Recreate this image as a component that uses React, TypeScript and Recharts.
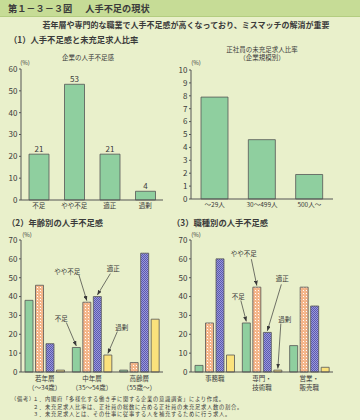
import React from "react";
import { BarChart, Bar, XAxis, YAxis, ReferenceArea, LabelList } from "recharts";

// (1) 企業の人手不足感
const shortageCats = ["不足", "やや不足", "適正", "過剰"];
const shortageVals = [21, 53, 21, 4];
const shortageTicks = [0, 10, 20, 30, 40, 50, 60];

// (1) 正社員の未充足求人比率（企業規模別）
const sizeCats = ["～29人", "30～499人", "500人～"];
const vacancyVals = [7.9, 4.6, 1.9];
const vacancyTicks = [0, 1, 2, 3, 4, 5, 6, 7, 8, 9, 10];

// (2) 年齢別
const ageCats = ["若年層", "中年層", "高齢層"];
const ageSubs = ["（～34歳）", "（35～54歳）", "（55歳～）"];
const ageFusoku = [38, 13, 1];
const ageYaya = [46, 37, 5];
const ageTekisei = [15, 40, 63];
const ageKajo = [1, 9, 28];

// (3) 職種別
const jobCats = ["事務職", "専門・", "営業・"];
const jobSubs = ["", "技術職", "販売職"];
const jobFusoku = [3.5, 26, 14];
const jobYaya = [26, 45, 45];
const jobTekisei = [60, 21, 35];
const jobKajo = [9, 1, 2.5];

const pctTicks70 = [0, 10, 20, 30, 40, 50, 60, 70];
const seriesNames = ["不足", "やや不足", "適正", "過剰"];

const shortageData = shortageCats.map((name, i) => ({ name, value: shortageVals[i] }));
const vacancyData = sizeCats.map((name, i) => ({ name, value: vacancyVals[i] }));
const ageData = ageCats.map((name, i) => ({
  name,
  fusoku: ageFusoku[i],
  yaya: ageYaya[i],
  tekisei: ageTekisei[i],
  kajo: ageKajo[i],
}));
const jobData = jobCats.map((name, i) => ({
  name,
  fusoku: jobFusoku[i],
  yaya: jobYaya[i],
  tekisei: jobTekisei[i],
  kajo: jobKajo[i],
}));

const INK = "#3a3a3a";
const FRAME = "#555";
const GREEN = "#8fcf9f";
const YELLOW = "#fbe27c";
const FONT = '"Noto Sans CJK JP", "Noto Sans", sans-serif';

const seriesKeys = ["fusoku", "yaya", "tekisei", "kajo"];
const seriesFills = (p: string) => [GREEN, `url(#${p}-dots)`, `url(#${p}-check)`, YELLOW];

// callout offsets relative to the top centre of the middle-category bar
const ageCallouts: Record<string, number[]> = {
  fusoku: [-15, -29.5, -10, -25],
  yaya: [-19.5, -31, -8, -27.5],
  tekisei: [16, -28.5, 13, -23],
  kajo: [14, -28, 9.5, -23.5],
};
const jobCallouts: Record<string, number[]> = {
  fusoku: [-8, -27, -5.5, -22.5],
  yaya: [-13, -34, -5.5, -28],
  tekisei: [15, -54, 14, -48],
  kajo: [7, -51.5, 3, -46.5],
};

function Defs({ p }: { p: string }) {
  return (
    <defs>
      <pattern id={`${p}-dots`} width="3" height="3" patternUnits="userSpaceOnUse">
        <rect width="3" height="3" fill="#f4b488" />
        <rect x="1" y="1" width="1" height="1" fill="#fff" />
        <rect x="2.5" y="2.5" width="0.5" height="0.5" fill="#fde6d6" />
      </pattern>
      <pattern id={`${p}-check`} width="2" height="2" patternUnits="userSpaceOnUse">
        <rect width="2" height="2" fill="#9b9ad9" />
        <rect width="1" height="1" fill="#5a58b0" />
        <rect x="1" y="1" width="1" height="1" fill="#5a58b0" />
      </pattern>
      <marker id={`${p}-arrow`} markerWidth="5" markerHeight="4" refX="5" refY="2" orient="auto" markerUnits="userSpaceOnUse">
        <path d="M0,0 L5,2 L0,4 z" fill={INK} />
      </marker>
    </defs>
  );
}

function makeCallout(text: string, off: number[], p: string) {
  return (props: any) => {
    if (props.index !== 1) return null;
    const vb = props.viewBox ?? props;
    const cx = vb.x + vb.width / 2;
    const top = vb.y;
    return (
      <g>
        <line
          x1={cx + off[2]}
          y1={top + off[3]}
          x2={cx}
          y2={top - 1.5}
          stroke={INK}
          strokeWidth={0.7}
          markerEnd={`url(#${p}-arrow)`}
        />
        <text
          x={cx + off[0]}
          y={top + off[1]}
          textAnchor="middle"
          dominantBaseline="central"
          fontSize={6.5}
          fill={INK}
        >
          {text}
        </text>
      </g>
    );
  };
}

function TwoLineTick(props: any) {
  const { x, y, payload, subs } = props;
  const idx = payload?.index ?? props.index ?? 0;
  return (
    <text x={x} y={y} textAnchor="middle" fontSize={6.5} fill={INK}>
      <tspan x={x} dy={6}>{payload.value}</tspan>
      <tspan x={x} dy={8.5}>{subs[idx]}</tspan>
    </text>
  );
}

const yTick = { fontSize: 8, fill: INK };
const xTick = { fontSize: 6.5, fill: INK };

function Txt({ x, y, size, bold, center, spacing, children }: any) {
  return (
    <div
      style={{
        position: "absolute",
        left: x,
        top: y - size / 2,
        fontSize: size,
        lineHeight: 1,
        fontWeight: bold ? 700 : 400,
        letterSpacing: spacing,
        whiteSpace: "nowrap",
        transform: center ? "translateX(-50%)" : undefined,
      }}
    >
      {children}
    </div>
  );
}

function GroupChart({ data, subs, callouts, p }: any) {
  const fills = seriesFills(p);
  return (
    <BarChart
      width={p === "age" ? 172 : 190}
      height={170}
      data={data}
      margin={{ top: 14, right: p === "age" ? 9 : 27, bottom: 0, left: 0 }}
      barSize={8}
      barGap={2.5}
    >
      <Defs p={p} />
      <ReferenceArea fill="#fff" fillOpacity={1} stroke={FRAME} strokeWidth={1} />
      <XAxis
        dataKey="name"
        interval={0}
        height={24}
        tickLine={false}
        tickSize={3}
        tickMargin={0}
        stroke={FRAME}
        tick={<TwoLineTick subs={subs} />}
      />
      <YAxis
        domain={[0, 70]}
        ticks={pctTicks70}
        interval={0}
        width={21}
        tickSize={2}
        tickMargin={1.5}
        stroke={FRAME}
        tick={yTick}
      />
      {seriesKeys.map((k, i) => (
        <Bar key={k} dataKey={k} name={seriesNames[i]} fill={fills[i]} stroke={FRAME} strokeWidth={0.8} isAnimationActive={false}>
          <LabelList dataKey={k} content={makeCallout(seriesNames[i], callouts[k], p)} />
        </Bar>
      ))}
    </BarChart>
  );
}

export default function App() {
  return (
    <div
      style={{
        position: "absolute",
        left: 0,
        top: 0,
        width: 360,
        height: 420,
        background: "#e9f0cb",
        fontFamily: FONT,
        color: INK,
        overflow: "hidden",
      }}
    >
      <div
        style={{
          position: "absolute",
          left: 0,
          top: 0,
          width: 360,
          height: 16,
          background: "#c6dc96",
          borderBottom: "1px solid #b3cd80",
        }}
      />
      <Txt x={8} y={8.5} size={9.2} bold>
        第１－３－３図<span style={{ marginLeft: 13 }}>人手不足の現状</span>
      </Txt>
      <Txt x={186} y={25} size={8} bold center>
        若年層や専門的な職業で人手不足感が高くなっており、ミスマッチの解消が重要
      </Txt>
      <Txt x={9} y={39} size={8.3} bold>（1）人手不足感と未充足求人比率</Txt>
      <Txt x={88} y={57} size={6.5} center>企業の人手不足感</Txt>
      <Txt x={262} y={49} size={6.5} center>正社員の未充足求人比率</Txt>
      <Txt x={262} y={57.5} size={6.5} center>（企業規模別）</Txt>
      <Txt x={25} y={63} size={6} center>(%)</Txt>
      <Txt x={196} y={63} size={6} center>(%)</Txt>
      <Txt x={7} y={222} size={8.3} bold>（2）年齢別の人手不足感</Txt>
      <Txt x={172} y={222} size={8.3} bold>（3）職種別の人手不足感</Txt>
      <Txt x={27} y={235} size={6} center>(%)</Txt>
      <Txt x={196} y={235} size={6} center>(%)</Txt>

      <div style={{ position: "absolute", left: 0, top: 55 }}>
        <BarChart width={170} height={160} data={shortageData} margin={{ top: 14, right: 7, bottom: 0, left: 0 }} barSize={20}>
          <ReferenceArea fill="#fff" fillOpacity={1} stroke={FRAME} strokeWidth={1} />
          <XAxis dataKey="name" interval={0} height={15} tickLine={false} tickSize={3} tickMargin={0} stroke={FRAME} tick={xTick} />
          <YAxis domain={[0, 60]} ticks={shortageTicks} interval={0} width={21} tickSize={2} tickMargin={1.5} stroke={FRAME} tick={yTick} />
          <Bar dataKey="value" fill={GREEN} stroke={FRAME} strokeWidth={0.8} isAnimationActive={false}>
            <LabelList dataKey="value" position="top" offset={2} fontSize={8} fill={INK} />
          </Bar>
        </BarChart>
      </div>

      <div style={{ position: "absolute", left: 170, top: 55 }}>
        <BarChart width={190} height={160} data={vacancyData} margin={{ top: 15, right: 27, bottom: 0, left: 0 }} barSize={27}>
          <ReferenceArea fill="#fff" fillOpacity={1} stroke={FRAME} strokeWidth={1} />
          <XAxis dataKey="name" interval={0} height={16} tickLine={false} tickSize={3} tickMargin={0} stroke={FRAME} tick={xTick} />
          <YAxis domain={[0, 10]} ticks={vacancyTicks} interval={0} width={21} tickSize={2} tickMargin={1.5} stroke={FRAME} tick={yTick} />
          <Bar dataKey="value" fill={GREEN} stroke={FRAME} strokeWidth={0.8} isAnimationActive={false} />
        </BarChart>
      </div>

      <div style={{ position: "absolute", left: 0, top: 226 }}>
        <GroupChart data={ageData} subs={ageSubs} callouts={ageCallouts} p="age" />
      </div>
      <div style={{ position: "absolute", left: 170, top: 226 }}>
        <GroupChart data={jobData} subs={jobSubs} callouts={jobCallouts} p="job" />
      </div>

      <Txt x={11} y={399.5} size={5.3} spacing={0.7}>（備考）</Txt>
      <Txt x={33} y={399.5} size={5.3} spacing={0.7}>１．内閣府「多様化する働き手に関する企業の意識調査」により作成。</Txt>
      <Txt x={33} y={407.3} size={5.3} spacing={0.7}>２．未充足求人比率は、正社員の総数に占める正社員の未充足求人数の割合。</Txt>
      <Txt x={33} y={415.1} size={5.3} spacing={0.7}>３．未充足求人とは、その仕事に従事する人を補充するために行う求人。</Txt>
    </div>
  );
}
